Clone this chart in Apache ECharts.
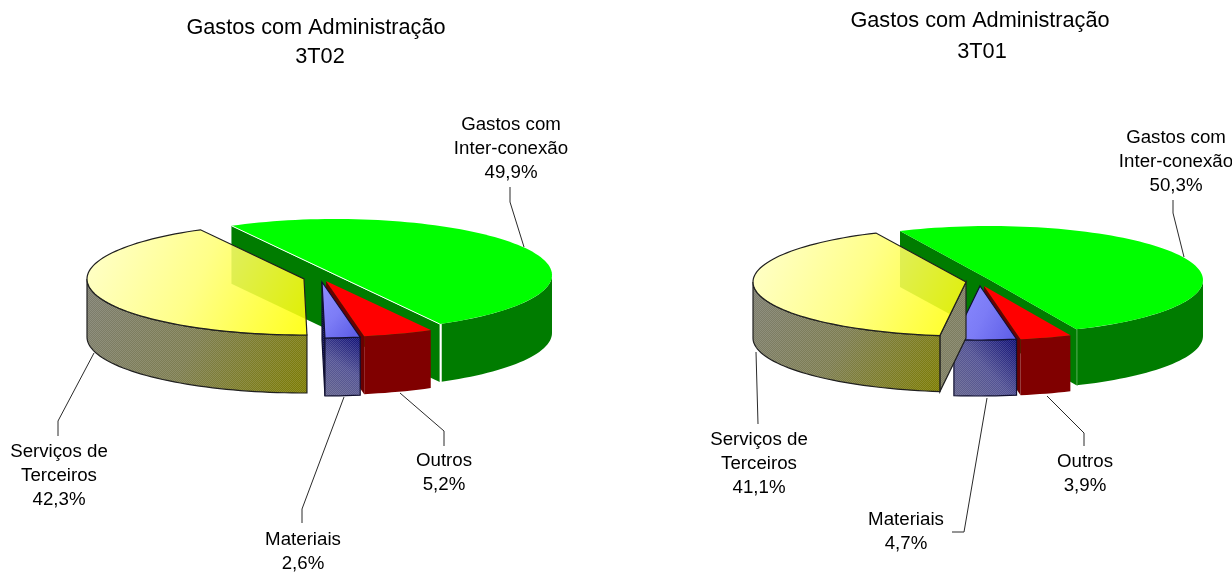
<!DOCTYPE html>
<html lang="en">
<head>
  <meta charset="UTF-8">
  <title>Gastos com Administração</title>
  <script src="https://cdn.jsdelivr.net/npm/echarts@6/dist/echarts.min.js"></script>
</head>
<body style="margin: 0; background: #fff;">
<div id="main" style="width: 1232px; height: 572px;"></div>
<script type="text/javascript">
  const categories = ['Gastos com\nInter-conexão', 'Outros', 'Materiais', 'Serviços de\nTerceiros'];
  const values3T02 = [49.9, 5.2, 2.6, 42.3];
  const values3T01 = [50.3, 3.9, 4.7, 41.1];

  const FONT = '"Liberation Sans", Arial, sans-serif';

  const myChart = echarts.init(document.getElementById('main'));

  // checker overlay, the original has dithered side walls
  function makeDither(alpha) {
    const c = document.createElement('canvas');
    c.width = c.height = 2;
    const ctx = c.getContext('2d');
    ctx.fillStyle = 'rgba(255,255,255,' + alpha + ')';
    ctx.fillRect(0, 0, 1, 1);
    ctx.fillRect(1, 1, 1, 1);
    return { image: c, repeat: 'repeat' };
  }
  const dither = makeDither(0.14);

  const diag = (x0, y0, x1, y1, stops) => new echarts.graphic.LinearGradient(x0, y0, x1, y1,
    stops.map((color, i) => ({ offset: i / (stops.length - 1), color })));

  // one style per category, same order as categories
  const sliceStyles = [
    { top: '#00ff00', side: '#007c00', wall: '#007c00' },
    { top: '#ff0000', side: '#800000', wall: '#6a0000' },
    {
      top: diag(0, 0.2, 1, 0.8, ['#8a8aff', '#7c7cf6', '#6060e8']),
      side: diag(0, 1, 1, 0, ['#62628c', '#525294', '#0e0e76']),
      wall: '#0c0c50', outline: '#101030', dither: true
    },
    {
      top: diag(0, 0, 1, 1, ['#ffffc8', '#ffff78', '#ffff00']),
      topOpacity: 0.88,
      side: diag(0, 0, 1, 1, ['#7d7d70', '#7d7d50', '#7c7c00']),
      wall: '#7d7d60', outline: '#202020', dither: true
    }
  ];

  const pies = [
    {
      values: values3T02,
      startAngle: 331.5, rx: 217, ry: 56, depth: 58,
      centers: [[335, 275], [326, 281], [322, 282], [304, 279]],
      chordColor: '#ffffff', cutColor: '#ffffff', cutWidth: 2,
      labels: [[511, 125], [444, 461], [303, 540], [59, 452]],
      leaders: [
        [[510, 187], [510, 202], [524, 247]],
        [[444, 446], [444, 431], [400, 393]],
        [[302, 523], [302, 509], [344, 397]],
        [[58, 436], [58, 421], [94, 353]]
      ]
    },
    {
      values: values3T01,
      startAngle: 335, rx: 213, ry: 54, depth: 56,
      centers: [[990, 280], [984, 286], [980, 286], [966, 282]],
      chordColor: null, cutColor: '#2a962a', cutWidth: 1,
      labels: [[1176, 138], [1085, 462], [906, 520], [759, 440]],
      leaders: [
        [[1173, 200], [1173, 213], [1184, 257]],
        [[1084, 446], [1084, 433], [1047, 396]],
        [[952, 532], [964, 532], [987, 398]],
        [[758, 424], [756, 352]]
      ]
    }
  ];

  function pct(v) {
    return v.toFixed(1).replace('.', ',') + '%';
  }

  function renderSlice(pie, params, api) {
    const i = params.dataIndex;
    const { values, startAngle, rx, ry, depth } = pie;
    const total = values.reduce((a, b) => a + b, 0);
    const before = values.slice(0, i).reduce((a, b) => a + b, 0);
    const a0 = startAngle + before / total * 360;
    const a1 = a0 + api.value(0) / total * 360;
    const [cx, cy] = pie.centers[i];
    const style = sliceStyles[i];
    const rim = (deg) => {
      const r = deg * Math.PI / 180;
      return [cx + rx * Math.sin(r), cy - ry * Math.cos(r)];
    };
    const arc = (from, to) => {
      const pts = [];
      const n = Math.max(2, Math.ceil((to - from) / 2));
      for (let k = 0; k <= n; k++) pts.push(rim(from + (to - from) * k / n));
      return pts;
    };
    const down = (p) => [p[0], p[1] + depth];
    const poly = (points, s) => ({ type: 'polygon', shape: { points }, style: s, silent: true });
    const children = [];

    // fill, then dither, then the outline so the dither does not eat it
    const face = (pts, fill) => {
      children.push(poly(pts, { fill }));
      if (style.dither) children.push(poly(pts, { fill: dither }));
      if (style.outline) children.push(poly(pts, { fill: null, stroke: style.outline, lineWidth: 1.2 }));
    };

    // walls on the cuts, only those that face the viewer
    const wall = (deg) => {
      const p = rim(deg);
      face([[cx, cy], p, down(p), [cx, cy + depth]], style.wall);
    };
    if (Math.sin(a0 * Math.PI / 180) < 0) wall(a0);
    if (Math.sin(a1 * Math.PI / 180) > 0) wall(a1);

    // outer rim, visible between 90 and 270 degrees
    [[a0, a1], [a0 - 360, a1 - 360]].forEach(([s, e]) => {
      const from = Math.max(s, 90);
      const to = Math.min(e, 270);
      if (to <= from) return;
      const upper = arc(from, to);
      face(upper.concat(upper.map(down).reverse()), style.side);
    });

    // top face
    const topPts = [[cx, cy]].concat(arc(a0, a1));
    children.push(poly(topPts, { fill: style.top, opacity: style.topOpacity || 1 }));
    if (style.outline) {
      children.push(poly(topPts, { fill: null, stroke: style.outline, lineWidth: 1.2 }));
    }

    if (i === 0) {
      const p0 = rim(a0);
      const p1 = rim(a1);
      if (pie.chordColor) {
        children.push({ type: 'line', shape: { x1: p0[0], y1: p0[1], x2: p1[0], y2: p1[1] }, style: { stroke: pie.chordColor, lineWidth: 1 }, silent: true });
      }
      children.push({ type: 'line', shape: { x1: p1[0] + 1, y1: p1[1], x2: p1[0] + 1, y2: p1[1] + depth }, style: { stroke: pie.cutColor, lineWidth: pie.cutWidth }, silent: true });
    }

    // leader line and label
    children.push({
      type: 'polyline',
      shape: { points: pie.leaders[i] },
      style: { stroke: '#2a2a2a', lineWidth: 1, fill: null },
      silent: true
    });
    const [lx, ly] = pie.labels[i];
    children.push({
      type: 'text',
      x: lx,
      y: ly - 12,
      style: {
        text: categories[i] + '\n' + pct(api.value(0)),
        font: '18.7px ' + FONT,
        fill: '#000',
        align: 'center',
        verticalAlign: 'top',
        lineHeight: 24
      },
      silent: true
    });
    return { type: 'group', children };
  }

  const titleStyle = { fontFamily: FONT, fontSize: 21.7, fontWeight: 'normal', color: '#000' };

  const option = {
    animation: false,
    backgroundColor: '#fff',
    title: [
      { text: 'Gastos com Administração', left: 316, top: 17, padding: 0, textAlign: 'center', textStyle: titleStyle },
      { text: '3T02', left: 320, top: 46, padding: 0, textAlign: 'center', textStyle: titleStyle },
      { text: 'Gastos com Administração', left: 980, top: 10, padding: 0, textAlign: 'center', textStyle: titleStyle },
      { text: '3T01', left: 982, top: 41, padding: 0, textAlign: 'center', textStyle: titleStyle }
    ],
    series: pies.map((pie) => ({
      type: 'custom',
      coordinateSystem: 'none',
      silent: true,
      data: pie.values.map((v) => [v]),
      renderItem: (params, api) => renderSlice(pie, params, api)
    }))
  };

  myChart.setOption(option);
</script>
</body>
</html>
